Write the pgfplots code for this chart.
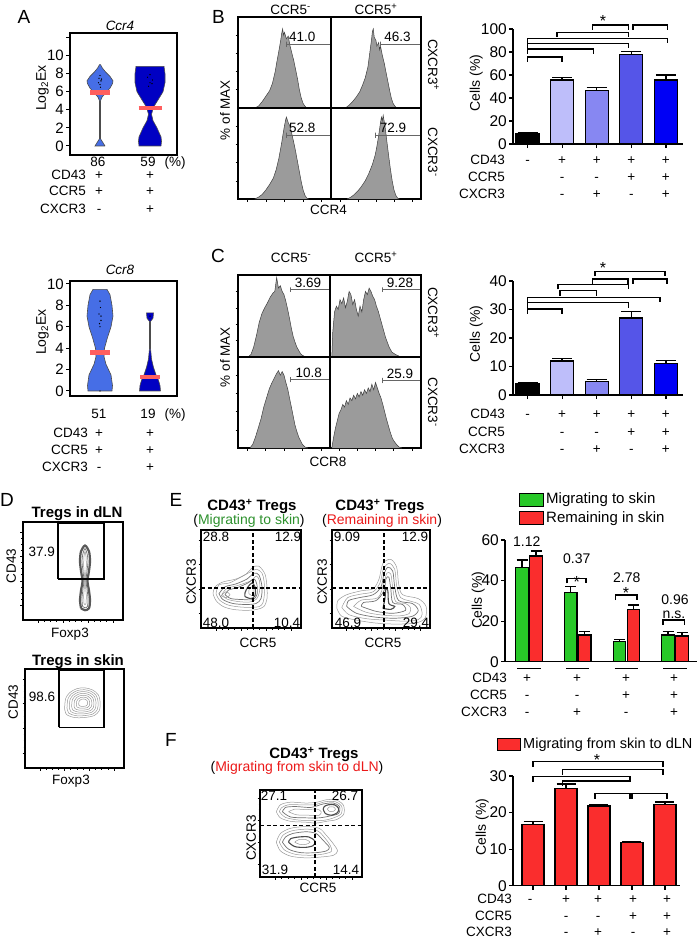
\documentclass[border=0pt]{standalone}
\usepackage{fontspec}
\setmainfont{Liberation Sans}
\usepackage{pgfplots}
\pgfplotsset{compat=1.18}
\definecolor{vlight}{RGB}{70,110,230}
\definecolor{vdark}{RGB}{0,0,195}
\definecolor{medred}{RGB}{255,95,95}
\definecolor{bb2}{RGB}{190,190,250}
\definecolor{bb3}{RGB}{135,135,242}
\definecolor{bb4}{RGB}{85,85,232}
\definecolor{bb5}{RGB}{0,0,245}
\definecolor{egreen}{RGB}{40,200,40}
\definecolor{ered}{RGB}{250,45,45}
\definecolor{tgreen}{RGB}{45,145,45}
\definecolor{tred}{RGB}{235,25,25}
\definecolor{histg}{RGB}{155,155,155}
\newcommand\fs[1]{\fontsize{#1}{#1}\selectfont}
\pgfplotsset{
  /pgf/number format/assume math mode=true,
  violin/.style={scale only axis, axis line style={line width=1.3pt}, xtick=\empty, ytick pos=left, tick align=outside, major tick length=4pt, tick style={black, line width=1pt}, yticklabel style={font=\fs{15}, inner sep=2pt}, clip=false},
  hist/.style={scale only axis, xmin=0, xmax=100, ymin=0, ymax=100, axis line style={line width=1.3pt}, tick pos=left, tick align=outside, major tick length=2.5pt, minor tick length=1.5pt, tick style={black, line width=0.6pt}, xticklabels={}, yticklabels={}},
  flow/.style={hist, xtick={15,40,65,90}, ytick={15,40,65,90}, minor tick num=3},
  hfill/.style={fill=histg, draw=black!75, line width=0.5pt, sharp plot},
  gate/.style={black!60, line width=0.8pt, sharp plot},
  cont/.style={black!40, line width=0.5pt, smooth},
  contm/.style={black!55, line width=0.7pt, smooth},
  contd/.style={black!70, line width=1.1pt, smooth},
  dash/.style={black, line width=1.6pt, dash pattern=on 4pt off 2.5pt, sharp plot},
  barch/.style={scale only axis, axis lines=left, axis line style={-, line width=1.5pt}, tick style={black, line width=1.2pt}, tick align=outside, major tick length=4pt, xticklabels={}, ybar, bar shift=0pt, clip=false, yticklabel style={font=\fs{15.5}, inner sep=2pt}},
  bx/.style={draw=black, line width=1.3pt},
  eb/.style={/pgfplots/error bars/y dir=plus, /pgfplots/error bars/y explicit, /pgfplots/error bars/error mark=|, /pgfplots/error bars/error bar style={line width=1.3pt, black}, /pgfplots/error bars/error mark options={mark size=#1, line width=1.3pt, black}},
  brk/.style={sharp plot, black, line width=1.3pt, fill=none, no markers},
}
\begin{document}
\begin{tikzpicture}[font=\fs{13.5},
  L/.style={inner sep=0pt, text height=9.7pt, text depth=0pt},
  P/.style={inner sep=0pt, font=\fs{19}, text height=13.6pt, text depth=0pt},
  T/.style={inner sep=0pt, font=\fs{15}\bfseries, text height=10.7pt, text depth=0pt}]
\useasboundingbox (0pt,0pt) rectangle (700pt,-942pt);

%%%%%%%%%%%%%%%% Panel A top: Ccr4 violins
\begin{axis}[violin, at={(70pt,-155pt)}, anchor=south west, width=107pt, height=122pt, xmin=0.4, xmax=2.54, ymin=-1, ymax=12.5, ytick={0,2,4,6,8,10,12}, yticklabels={0,2,4,6,8,10,{}}]
\addplot[fill=vlight, draw=black!70, line width=0.6pt, sharp plot] coordinates {(1.10,0)(1.01,0.8)(1.01,5.0)(1.04,5.4)(1.12,5.9)(1.2,6.4)(1.25,6.9)(1.26,7.2)(1.2,7.7)(1.11,8.2)(1.05,8.6)(1.01,9.0)(0.99,9.0)(0.95,8.6)(0.89,8.2)(0.8,7.7)(0.74,7.2)(0.75,6.9)(0.8,6.4)(0.88,5.9)(0.96,5.4)(0.99,5.0)(0.99,0.8)(0.90,0)(1.10,0)};
\addplot[fill=vdark, draw=black!70, line width=0.6pt, sharp plot] coordinates {(2.22,0)(2.23,0.5)(2.22,1)(2.14,2)(2.06,2.8)(2.03,3.5)(2.07,4.3)(2.15,5)(2.26,6)(2.3,7)(2.3,8)(2.28,8.8)(1.72,8.8)(1.7,8)(1.7,7)(1.74,6)(1.85,5)(1.93,4.3)(1.97,3.5)(1.94,2.8)(1.86,2)(1.78,1)(1.77,0.5)(1.78,0)(2.22,0)};
\addplot[only marks, mark=*, mark size=0.4pt, black] coordinates {(1.0,6.8)(1.02,7.2)(0.98,7.5)(1.0,7.8)(1.01,6.5)(0.97,7.0)(1.03,7.4)(1.95,7.6)(2.05,7.3)(2.0,7.0)(1.97,6.6)(2.04,6.9)(2.0,7.9)};
\addplot[medred, line width=4.5pt] coordinates {(0.8,5.9)(1.2,5.9)};
\addplot[medred, line width=4.5pt] coordinates {(1.77,4.2)(2.23,4.2)};
\end{axis}

%%%%%%%%%%%%%%%% Panel A bottom: Ccr8 violins
\begin{axis}[violin, at={(70pt,-396pt)}, anchor=south west, width=107pt, height=115pt, xmin=0.4, xmax=2.54, ymin=-0.47, ymax=10.28, ytick={0,2,4,6,8,10}]
\addplot[fill=vlight, draw=black!70, line width=0.6pt, sharp plot] coordinates {(1.24,0)(1.25,0.5)(1.22,1.5)(1.12,2.5)(1.08,3.2)(1.09,4)(1.15,5)(1.22,6)(1.26,7)(1.24,8)(1.2,9)(1.14,9.5)(0.86,9.5)(0.8,9)(0.76,8)(0.74,7)(0.78,6)(0.85,5)(0.91,4)(0.92,3.2)(0.88,2.5)(0.78,1.5)(0.75,0.5)(0.76,0)(1.24,0)};
\addplot[fill=vdark, draw=black!70, line width=0.6pt, sharp plot] coordinates {(2.21,0)(2.2,0.5)(2.17,1)(2.12,1.5)(2.07,2.2)(2.03,3)(2.01,4)(2.01,6.5)(2.06,6.8)(2.07,7.3)(1.93,7.3)(1.94,6.8)(1.99,6.5)(1.99,4)(1.97,3)(1.93,2.2)(1.88,1.5)(1.83,1)(1.8,0.5)(1.79,0)(2.21,0)};
\addplot[only marks, mark=*, mark size=0.4pt, black] coordinates {(1.0,6)(1.02,6.6)(0.98,7.2)(1.01,7.8)(1.0,8.4)(0.99,6.3)(1.02,7.0)(2.0,7.0)(1.0,0)};
\addplot[medred, line width=4.5pt] coordinates {(0.8,3.6)(1.2,3.6)};
\addplot[medred, line width=4.5pt] coordinates {(1.8,1.3)(2.2,1.3)};
\end{axis}

%%%%%%%%%%%%%%%% Panel B histograms (CCR4)
\begin{axis}[hist, at={(238pt,-108pt)}, anchor=south west, width=93pt, height=91pt, xtick=\empty, ytick={20,40,60,80}]
\addplot[hfill] coordinates {(18,0)(22,2)(26,7)(30,13)(34,19)(37,27)(40,40)(42,52)(44,63)(46,75)(47,82)(48,87)(49,80)(50,83)(52,76)(54,79)(56,68)(58,60)(60,52)(62,42)(64,32)(66,20)(68,11)(70,5)(72,2)(74,0)};
\addplot[gate] coordinates {(52,67)(52,73)(52,70)(99,70)};
\node[L] at (axis cs:69,78) {41.0};
\end{axis}
\begin{axis}[hist, at={(331pt,-108pt)}, anchor=south west, width=90pt, height=91pt, xtick=\empty, ytick=\empty]
\addplot[hfill] coordinates {(16,0)(20,3)(24,7)(28,12)(32,18)(35,25)(38,33)(41,45)(43,60)(45,75)(46,84)(47,87)(48,78)(50,74)(51,68)(53,72)(54,64)(55,68)(57,58)(59,50)(61,40)(63,30)(65,20)(67,11)(69,5)(71,2)(73,0)};
\addplot[gate] coordinates {(55,67)(55,73)(55,70)(99,70)};
\node[L] at (axis cs:74,78) {46.3};
\end{axis}
\begin{axis}[hist, at={(238pt,-199pt)}, anchor=south west, width=93pt, height=91pt, xtick={10,30,50,70,90}, ytick={20,40,60,80}]
\addplot[hfill] coordinates {(18,0)(22,2)(26,5)(30,10)(34,16)(38,23)(41,32)(44,45)(47,62)(49,75)(51,86)(52,90)(54,84)(56,80)(58,71)(60,62)(62,52)(64,41)(66,30)(68,19)(70,10)(72,4)(74,1)(76,0)};
\addplot[gate] coordinates {(52,67)(52,73)(52,70)(99,70)};
\node[L] at (axis cs:69,78) {52.8};
\end{axis}
\begin{axis}[hist, at={(331pt,-199pt)}, anchor=south west, width=90pt, height=91pt, xtick={10,30,50,70,90}, ytick=\empty]
\addplot[hfill] coordinates {(18,0)(22,2)(26,5)(30,9)(34,14)(38,20)(42,28)(46,38)(49,48)(51,58)(53,70)(55,84)(56,90)(57,86)(58,92)(60,80)(62,64)(64,48)(66,33)(68,20)(70,10)(72,4)(74,1)(76,0)};
\addplot[gate] coordinates {(49,67)(49,73)(49,70)(99,70)};
\node[L] at (axis cs:69,78) {72.9};
\end{axis}

%%%%%%%%%%%%%%%% Panel C histograms (CCR8)
\begin{axis}[hist, at={(238pt,-357pt)}, anchor=south west, width=92pt, height=82pt, xtick=\empty, ytick={20,40,60,80}]
\addplot[hfill] coordinates {(11,0)(14,3)(17,12)(20,26)(23,42)(26,53)(29,60)(32,66)(35,73)(38,78)(40,80)(42,97)(44,84)(46,87)(48,80)(50,76)(52,68)(54,58)(56,47)(58,35)(60,25)(62,18)(64,12)(66,8)(68,4)(70,2)(74,0)};
\addplot[gate] coordinates {(57,79)(57,85)(57,82)(99,82)};
\node[L] at (axis cs:76,91) {3.69};
\end{axis}
\begin{axis}[hist, at={(330pt,-357pt)}, anchor=south west, width=91pt, height=82pt, xtick=\empty, ytick=\empty]
\addplot[hfill] coordinates {(2,0)(3,30)(5,55)(7,62)(9,58)(11,70)(13,65)(15,72)(17,60)(19,68)(21,80)(23,76)(25,64)(27,70)(29,58)(31,50)(33,62)(35,55)(37,70)(39,80)(41,76)(43,84)(45,80)(47,74)(49,70)(51,62)(53,56)(55,48)(57,40)(59,32)(61,24)(63,18)(65,12)(68,6)(72,3)(76,1)(78,0)};
\addplot[gate] coordinates {(58,79)(58,85)(58,82)(99,82)};
\node[L] at (axis cs:77,91) {9.28};
\end{axis}
\begin{axis}[hist, at={(238pt,-448pt)}, anchor=south west, width=92pt, height=91pt, xtick={10,30,50,70,90}, ytick={20,40,60,80}]
\addplot[hfill] coordinates {(13,0)(16,4)(19,12)(22,22)(25,32)(28,45)(31,55)(34,65)(37,72)(40,78)(42,82)(44,85)(46,80)(48,84)(50,80)(52,72)(54,65)(56,55)(58,45)(60,35)(62,25)(64,18)(66,12)(68,8)(70,4)(73,1)(76,0)};
\addplot[gate] coordinates {(57,72)(57,78)(57,75)(99,75)};
\node[L] at (axis cs:77,83) {10.8};
\end{axis}
\begin{axis}[hist, at={(330pt,-448pt)}, anchor=south west, width=91pt, height=91pt, xtick={10,30,50,70,90}, ytick=\empty]
\addplot[hfill] coordinates {(2,0)(4,12)(6,22)(8,30)(10,38)(12,42)(14,48)(16,45)(18,52)(20,48)(22,55)(24,52)(26,58)(28,54)(30,60)(32,56)(34,62)(36,58)(38,64)(40,60)(42,66)(44,62)(46,70)(48,64)(50,72)(52,66)(54,60)(56,55)(58,48)(60,40)(62,32)(64,25)(66,18)(68,12)(70,8)(73,4)(76,1)(79,0)};
\addplot[gate] coordinates {(58,71)(58,77)(58,74)(99,74)};
\node[L] at (axis cs:77,82) {25.9};
\end{axis}

%%%%%%%%%%%%%%%% Panel B bar chart
\begin{axis}[barch, at={(513pt,-144pt)}, anchor=south west, width=170pt, height=115pt, xmin=0.58, xmax=5.493, ymin=0, ymax=100, ytick={0,20,40,60,80,100}, xtick={1,2,3,4,5}, bar width=23pt]
\addplot[fill=black, bx, eb=10pt] coordinates {(1,9.3) +- (0,0.5)};
\addplot[fill=bb2, bx, eb=10pt] coordinates {(2,55.7) +- (0,2.3)};
\addplot[fill=bb3, bx, eb=10pt] coordinates {(3,46.4) +- (0,2.9)};
\addplot[fill=bb4, bx, eb=10pt] coordinates {(4,78) +- (0,2.3)};
\addplot[fill=bb5, bx, eb=10pt] coordinates {(5,55.7) +- (0,4.3)};
\addplot[brk] coordinates {(1,71.5)(1,75.6)(2,75.6)(2,71.5)};
\addplot[brk] coordinates {(1,78.4)(1,82.5)(2.9,82.5)(2.9,78.4)};
\addplot[brk] coordinates {(1,83.4)(1,87.5)(3.92,87.5)(3.92,83.4)};
\addplot[brk] coordinates {(1,87.8)(1,91.9)(5.05,91.9)(5.05,87.8)};
\addplot[brk] coordinates {(1.85,93)(1.85,97.1)(3.92,97.1)(3.92,93)};
\addplot[brk] coordinates {(2.88,99.4)(2.88,103.5)(3.92,103.5)(3.92,99.4)};
\addplot[brk] coordinates {(4.05,99.4)(4.05,103.5)(5.05,103.5)(5.05,99.4)};
\end{axis}

%%%%%%%%%%%%%%%% Panel C bar chart
\begin{axis}[barch, at={(513pt,-395pt)}, anchor=south west, width=170pt, height=114pt, xmin=0.58, xmax=5.493, ymin=0, ymax=40, ytick={0,10,20,30,40}, xtick={1,2,3,4,5}, bar width=23pt]
\addplot[fill=black, bx, eb=10pt] coordinates {(1,3.85) +- (0,0.45)};
\addplot[fill=bb2, bx, eb=10pt] coordinates {(2,11.9) +- (0,0.8)};
\addplot[fill=bb3, bx, eb=10pt] coordinates {(3,4.7) +- (0,0.8)};
\addplot[fill=bb4, bx, eb=10pt] coordinates {(4,27.05) +- (0,2.35)};
\addplot[fill=bb5, bx, eb=10pt] coordinates {(5,11.1) +- (0,1.1)};
\addplot[brk] coordinates {(1,28.5)(1,30.2)(2,30.2)(2,28.5)};
\addplot[brk] coordinates {(1,30.7)(1,32.4)(3.92,32.4)(3.92,30.7)};
\addplot[brk] coordinates {(1,32.6)(1,34.3)(4.83,34.3)(4.83,32.6)};
\addplot[brk] coordinates {(1.94,34.9)(1.94,36.6)(3.0,36.6)(3.0,34.9)};
\addplot[brk] coordinates {(1.88,37.1)(1.88,38.8)(3.92,38.8)(3.92,37.1)};
\addplot[brk] coordinates {(2.87,39)(2.87,40.7)(3.9,40.7)(3.9,39)};
\addplot[brk] coordinates {(4.05,39)(4.05,40.7)(5.03,40.7)(5.03,39)};
\addplot[brk] coordinates {(2.95,41.6)(2.95,43.3)(4.97,43.3)(4.97,41.6)};
\end{axis}

%%%%%%%%%%%%%%%% Panel D flow plots
\begin{axis}[flow, at={(23pt,-620pt)}, anchor=south west, width=100pt, height=98pt]
\addplot[black!65, line width=2.2pt, smooth] coordinates {(58,12)(62,10)(66,12)(67,20)(66,30)(64.5,40)(66,50)(67,60)(66,70)(62,76)(58,70)(57,60)(58,50)(59.5,40)(58,30)(57,20)(58,12)};
\addplot[contm] coordinates {(59.5,14)(62,12.5)(64.5,14)(65,22)(64,32)(63,40)(64,50)(65,60)(64,68)(62,73)(60,68)(59,60)(60,50)(61,40)(60,32)(59,22)(59.5,14)};
\addplot[cont] coordinates {(61,17)(62,15.5)(63,17)(63.3,25)(62.5,35)(62.5,45)(63.3,55)(63,65)(62,70)(61,65)(60.7,55)(61.5,45)(61.5,35)(60.7,25)(61,17)};
\addplot[black, line width=1.8pt, sharp plot] coordinates {(35,42)(81,42)(81,99)(35,99)(35,42)};
\end{axis}
\begin{axis}[flow, at={(25pt,-768pt)}, anchor=south west, width=99pt, height=99pt]
\addplot[cont] coordinates {(40,60)(42,54)(50,51)(60,51)(70,53)(75,58)(76,66)(74,74)(68,79)(60,81)(52,80)(45,76)(41,70)(40,60)};
\addplot[cont] coordinates {(42.4,60.75)(44.1,55.5)(51.1,52.9)(59.9,52.9)(68.6,54.6)(73,59)(73.9,66)(72.1,73)(66.9,77.4)(59.9,79.1)(52.9,78.25)(46.75,74.75)(43.25,69.5)(42.4,60.75)};
\addplot[cont] coordinates {(44.75,61.5)(46.25,57)(52.25,54.75)(59.75,54.75)(67.25,56.25)(71,60)(71.75,66)(70.25,72)(65.75,75.75)(59.75,77.25)(53.75,76.5)(48.5,73.5)(45.5,69)(44.75,61.5)};
\addplot[cont] coordinates {(47.1,62.25)(48.4,58.5)(53.4,56.6)(59.6,56.6)(65.9,57.9)(69,61)(69.6,66)(68.4,71)(64.6,74.1)(59.6,75.4)(54.6,74.75)(50.25,72.25)(47.75,68.5)(47.1,62.25)};
\addplot[cont] coordinates {(49.5,63)(50.5,60)(54.5,58.5)(59.5,58.5)(64.5,59.5)(67,62)(67.5,66)(66.5,70)(63.5,72.5)(59.5,73.5)(55.5,73)(52,71)(50,68)(49.5,63)};
\addplot[cont] coordinates {(51.9,63.75)(52.6,61.5)(55.6,60.4)(59.4,60.4)(63.1,61.1)(65,63)(65.4,66)(64.6,69)(62.4,70.9)(59.4,71.6)(56.4,71.25)(53.75,69.75)(52.25,67.5)(51.9,63.75)};
\addplot[cont] coordinates {(54.25,64.5)(54.75,63)(56.75,62.25)(59.25,62.25)(61.75,62.75)(63,64)(63.25,66)(62.75,68)(61.25,69.25)(59.25,69.75)(57.25,69.5)(55.5,68.5)(54.5,67)(54.25,64.5)};
\addplot[black, line width=1.8pt, sharp plot] coordinates {(34,41)(80,41)(80,99)(34,99)(34,41)};
\end{axis}

%%%%%%%%%%%%%%%% Panel E flow plots
\begin{axis}[flow, at={(201pt,-628pt)}, anchor=south west, width=100pt, height=98pt]
\addplot[cont] coordinates {(12,35)(15,28)(22,22)(32,19)(45,18)(56,19)(63,22)(66,30)(66,42)(64,55)(58,63)(52,62)(45,55)(35,50)(22,47)(14,42)(12,35)};
\addplot[cont] coordinates {(15,35)(18.5,28.5)(27,23.5)(38.5,21.5)(50,21)(58.5,22)(62,26)(63.5,36)(63,48)(61,56)(55.5,60)(49,57)(40,52)(28.5,46)(18,44)(15,35)};
\addplot[contm] coordinates {(18,35)(22,29)(32,25)(45,24)(55,25)(60,30)(61,42)(58,54)(53,56)(46,50)(35,45)(24,42)(18,35)};
\addplot[cont] coordinates {(21,34.5)(26,29.5)(37,27)(48.5,26.5)(55.5,29.5)(58.5,37)(58.5,48)(55.5,53)(49.5,48)(35.5,43)(26,40.5)(21,34.5)};
\addplot[contm] coordinates {(24,34)(30,30)(42,29)(52,29)(56,34)(56,44)(53,50)(47,46)(36,41)(28,39)(24,34)};
\addplot[contd] coordinates {(44,32)(50,30)(54,33)(54,42)(51,46)(47,42)(44,36)(44,32)};
\addplot[cont] coordinates {(48,35)(51,33)(52,36)(52,41)(50,42)(48,39)(48,35)};
\addplot[cont] coordinates {(20,33)(25,31)(29,34)(25,37)(20,33)};
\addplot[dash] coordinates {(52,0)(52,100)};
\addplot[dash] coordinates {(0,41)(100,41)};
\end{axis}
\begin{axis}[flow, at={(332pt,-628pt)}, anchor=south west, width=98pt, height=98pt]
\addplot[cont] coordinates {(5,20)(10,12)(25,8)(45,5)(65,4)(85,5)(95,10)(96,22)(88,30)(72,34)(68,45)(66,62)(60,70)(52,66)(48,50)(42,40)(30,38)(15,34)(6,28)(5,20)};
\addplot[cont] coordinates {(10,21)(17.5,13.5)(35,9.5)(55,8)(75,7)(88,8.5)(92,14)(89,24)(78,28)(70,31)(66,43)(64,60)(58.5,66)(52.5,60.5)(49,46)(42,37)(29,34.5)(16,31)(10,21)};
\addplot[contm] coordinates {(15,22)(25,15)(45,11)(65,10)(82,12)(88,18)(82,25)(68,28)(64,42)(62,58)(57,62)(53,55)(50,42)(42,34)(28,31)(17,28)(15,22)};
\addplot[cont] coordinates {(22,22)(35,16)(53,13)(70,12.5)(79,15)(80,21)(75,25)(65,27)(62,41)(60,55)(56,56)(53,46)(47,31)(30,28.5)(22,22)};
\addplot[contm] coordinates {(30,22)(45,17)(62,15)(75,18)(72,24)(62,26)(60,40)(58,52)(55,50)(53,38)(45,28)(32,26)(30,22)};
\addplot[contd] coordinates {(52,20)(60,19)(64,22)(58,25)(57,38)(55,40)(54,30)(52,20)};
\addplot[dash] coordinates {(53,0)(53,100)};
\addplot[dash] coordinates {(0,41)(100,41)};
\end{axis}

%%%%%%%%%%%%%%%% Panel F flow plot
\begin{axis}[flow, at={(260pt,-877pt)}, anchor=south west, width=102pt, height=87pt]
\addplot[cont] coordinates {(16,75)(20,68)(30,64)(45,63)(55,62)(65,64)(75,66)(82,72)(82,82)(76,88)(66,89)(56,86)(45,85)(30,86)(20,83)(16,75)};
\addplot[cont] coordinates {(19,75)(25,68.5)(37.5,65.5)(50,65)(61.5,65)(71,67.5)(79.5,72.5)(80,81.5)(74,86.5)(64,86.5)(53,83)(40,83)(27.5,83)(21,79.5)(19,75)};
\addplot[contm] coordinates {(22,75)(30,69)(45,68)(58,68)(68,70)(77,73)(78,81)(72,85)(62,84)(50,80)(35,81)(25,80)(22,75)};
\addplot[cont] coordinates {(28,75)(36,71.5)(48,71)(58,71)(60,75)(56,78)(45,77.5)(34,78)(28,75)};
\addplot[contd] coordinates {(62,78)(64,73)(70,71)(76,74)(77,79)(73,83)(67,83)(63,81)(62,78)};
\addplot[cont] coordinates {(66,78)(68,75.5)(72,75.5)(74,78)(72,80.5)(68,80.5)(66,78)};
\addplot[cont] coordinates {(16,40)(20,30)(30,24)(45,22)(60,23)(72,25)(76,30)(72,38)(65,48)(58,56)(45,58)(30,56)(20,50)(16,40)};
\addplot[cont] coordinates {(19,40)(24,31)(35,26)(50,25)(62.5,26.5)(70,29.5)(69,36)(63.5,45)(56.5,53)(45,55)(31,53)(22.5,48)(19,40)};
\addplot[contm] coordinates {(22,40)(28,32)(40,28)(55,28)(65,30)(68,34)(62,42)(55,50)(45,52)(32,50)(25,46)(22,40)};
\addplot[contd] coordinates {(28,40)(34,35)(44,34)(52,36)(54,41)(48,46)(38,46)(30,44)(28,40)};
\addplot[cont] coordinates {(34,40)(39,37.5)(45,37.5)(49,40)(45,43)(38,43)(34,40)};
\addplot[dash] coordinates {(54,0)(54,100)};
\addplot[dash] coordinates {(0,59)(100,59)};
\end{axis}

%%%%%%%%%%%%%%%% Panel E bar chart
\begin{axis}[barch, at={(505pt,-661.7pt)}, anchor=south west, width=192pt, height=121.7pt, xmin=0.507, xmax=4.45, ymin=0, ymax=60, ytick={0,20,40,60}, xtick=\empty, bar width=12.5pt]
\addplot[fill=egreen, bx, bar shift=-7pt, eb=5.5pt] coordinates {(1,46.5) +- (0,3.6) (2,34.2) +- (0,2.8) (3,9.9) +- (0,1.1) (4,13.2) +- (0,1.6)};
\addplot[fill=ered, bx, bar shift=7pt, eb=5.5pt] coordinates {(1,52.1) +- (0,2.5) (2,13.2) +- (0,1.6) (3,25.8) +- (0,2.2) (4,12.7) +- (0,1.6)};
\addplot[brk] coordinates {(1.78,38.6)(1.78,41.1)(2.17,41.1)(2.17,38.6)};
\addplot[brk] coordinates {(2.77,30.4)(2.77,32.9)(3.22,32.9)(3.22,30.4)};
\addplot[brk] coordinates {(3.75,18)(3.75,20.5)(4.2,20.5)(4.2,18)};
\addplot[brk, line width=1pt] coordinates {(0.76,-3.3)(1.24,-3.3)};
\addplot[brk, line width=1pt] coordinates {(1.76,-3.3)(2.24,-3.3)};
\addplot[brk, line width=1pt] coordinates {(2.76,-3.3)(3.24,-3.3)};
\addplot[brk, line width=1pt] coordinates {(3.76,-3.3)(4.24,-3.3)};
\end{axis}

%%%%%%%%%%%%%%%% Panel F bar chart
\begin{axis}[barch, at={(513pt,-885.7pt)}, anchor=south west, width=167pt, height=109.7pt, xmin=0.394, xmax=5.455, ymin=0, ymax=30, ytick={0,10,20,30}, xtick={1,2,3,4,5}, bar width=22pt]
\addplot[fill=ered, bx, eb=9.5pt] coordinates {(1,16.8) +- (0,0.7) (2,26.6) +- (0,1.2) (3,21.8) +- (0,0.4) (4,11.8) +- (0,0.2) (5,22.3) +- (0,0.6)};
\addplot[brk] coordinates {(1,32.5)(1,33.9)(4.94,33.9)(4.94,32.5)};
\addplot[brk] coordinates {(1.9,30.4)(1.9,31.8)(4.94,31.8)(4.94,30.4)};
\addplot[brk] coordinates {(1,28.4)(1,29.8)(3.94,29.8)(3.94,28.4)};
\addplot[brk] coordinates {(1.9,27.2)(1.9,28.6)(3.94,28.6)};
\addplot[brk] coordinates {(2.88,23.8)(2.88,25.2)(3.94,25.2)(3.94,23.8)};
\addplot[brk] coordinates {(4.0,23.8)(4.0,25.2)(5.06,25.2)(5.06,23.8)};
\end{axis}

%%%%%%%%%%%%%%%% Texts
\node[P] at (24pt,-16.5pt) {A};
\node[P] at (218.5pt,-16.5pt) {B};
\node[P] at (218pt,-255.5pt) {C};
\node[P] at (7pt,-500pt) {D};
\node[P] at (176pt,-500pt) {E};
\node[P] at (171pt,-740pt) {F};

% A top
\node[L, font=\fs{13.5}\itshape] at (120pt,-25.5pt) {Ccr4};
\node[L, rotate=90, font=\fs{14}] at (41pt,-88pt) {Log\textsubscript{2}Ex};
\node[L] at (98pt,-162pt) {86};
\node[L] at (148pt,-162pt) {59};
\node[L] at (175pt,-162pt) {(\%)};
\node[L, anchor=east] at (86pt,-174.5pt) {CD43};
\node[L, anchor=east] at (86pt,-191pt) {CCR5};
\node[L, anchor=east] at (86pt,-209pt) {CXCR3};
\node[L] at (99pt,-174.5pt) {+}; \node[L] at (150pt,-174.5pt) {+};
\node[L] at (99pt,-191pt) {+}; \node[L] at (150pt,-191pt) {+};
\node[L] at (99pt,-209pt) {-}; \node[L] at (150pt,-209pt) {+};
% A bottom
\node[L, font=\fs{13.5}\itshape] at (120pt,-270pt) {Ccr8};
\node[L, rotate=90, font=\fs{14}] at (41pt,-332pt) {Log\textsubscript{2}Ex};
\node[L] at (99pt,-414pt) {51};
\node[L] at (148pt,-414pt) {19};
\node[L] at (175pt,-414pt) {(\%)};
\node[L, anchor=east] at (88pt,-433pt) {CD43};
\node[L, anchor=east] at (88pt,-450pt) {CCR5};
\node[L, anchor=east] at (88pt,-467pt) {CXCR3};
\node[L] at (99pt,-433pt) {+}; \node[L] at (150pt,-433pt) {+};
\node[L] at (99pt,-450pt) {+}; \node[L] at (150pt,-450pt) {+};
\node[L] at (99pt,-467pt) {-}; \node[L] at (150pt,-467pt) {+};

% B labels
\node[L] at (290.5pt,-10pt) {CCR5\textsuperscript{-}};
\node[L] at (376pt,-10pt) {CCR5\textsuperscript{+}};
\node[L, rotate=90] at (225pt,-110pt) {\% of MAX};
\node[L] at (328.5pt,-210pt) {CCR4};
\node[L, rotate=-90] at (433pt,-65pt) {CXCR3\textsuperscript{+}};
\node[L, rotate=-90] at (433pt,-152pt) {CXCR3\textsuperscript{-}};
% C labels
\node[L] at (291pt,-258pt) {CCR5\textsuperscript{-}};
\node[L] at (376pt,-258pt) {CCR5\textsuperscript{+}};
\node[L, rotate=90] at (225pt,-357pt) {\% of MAX};
\node[L] at (328pt,-462pt) {CCR8};
\node[L, rotate=-90] at (433pt,-313pt) {CXCR3\textsuperscript{+}};
\node[L, rotate=-90] at (433pt,-402pt) {CXCR3\textsuperscript{-}};

% B bar texts
\node[L, rotate=90, font=\fs{14}] at (475pt,-83pt) {Cells (\%)};
\node[L, font=\fs{16}] at (603pt,-22pt) {*};
\node[L, anchor=east] at (505pt,-160pt) {CD43};
\node[L, anchor=east] at (505pt,-177pt) {CCR5};
\node[L, anchor=east] at (505pt,-194pt) {CXCR3};
\foreach \x/\s in {527.5/-,562/+,596.7/+,631.3/+,665.9/+} \node[L] at (\x pt,-160pt) {\s};
\foreach \x/\s in {562/-,596.7/-,631.3/+,665.9/+} \node[L] at (\x pt,-177pt) {\s};
\foreach \x/\s in {562/-,596.7/+,631.3/-,665.9/+} \node[L] at (\x pt,-194pt) {\s};
% C bar texts
\node[L, rotate=90, font=\fs{14}] at (475pt,-334pt) {Cells (\%)};
\node[L, font=\fs{16}] at (603pt,-269pt) {*};
\node[L, anchor=east] at (505pt,-414pt) {CD43};
\node[L, anchor=east] at (505pt,-432pt) {CCR5};
\node[L, anchor=east] at (505pt,-449pt) {CXCR3};
\foreach \x/\s in {527.5/-,562/+,596.7/+,631.3/+,665.9/+} \node[L] at (\x pt,-414pt) {\s};
\foreach \x/\s in {562/-,596.7/-,631.3/+,665.9/+} \node[L] at (\x pt,-432pt) {\s};
\foreach \x/\s in {562/-,596.7/+,631.3/-,665.9/+} \node[L] at (\x pt,-449pt) {\s};

% D texts
\node[T] at (77pt,-511.7pt) {Tregs in dLN};
\node[L] at (41.7pt,-551.7pt) {37.9};
\node[L, rotate=90] at (11pt,-566pt) {CD43};
\node[L] at (70pt,-633pt) {Foxp3};
\node[T] at (78pt,-660pt) {Tregs in skin};
\node[L] at (42pt,-696.7pt) {98.6};
\node[L, rotate=90] at (13pt,-702pt) {CD43};
\node[L] at (71pt,-780pt) {Foxp3};

% E texts
\node[T] at (252pt,-505pt) {CD43\textsuperscript{+} Tregs};
\node[L, font=\fs{14}] at (249pt,-520pt) {(\textcolor{tgreen}{Migrating to skin})};
\node[T] at (380pt,-505pt) {CD43\textsuperscript{+} Tregs};
\node[L, font=\fs{14}] at (382pt,-520pt) {(\textcolor{tred}{Remaining in skin})};
\node[L] at (216pt,-537pt) {28.8};
\node[L] at (288pt,-537pt) {12.9};
\node[L] at (216pt,-623pt) {48.0};
\node[L] at (287pt,-623pt) {10.4};
\node[L] at (347pt,-537pt) {9.09};
\node[L] at (415pt,-537pt) {12.9};
\node[L] at (348pt,-623pt) {46.9};
\node[L] at (416pt,-623pt) {29.4};
\node[L, rotate=90] at (191pt,-582pt) {CXCR3};
\node[L, rotate=90] at (322pt,-582pt) {CXCR3};
\node[L] at (258pt,-643pt) {CCR5};
\node[L] at (383pt,-643pt) {CCR5};

% E bar texts
\filldraw[fill=egreen, draw=black, line width=0.8pt] (519pt,-493pt) rectangle (543pt,-506pt);
\node[L, font=\fs{15}, anchor=west] at (546pt,-499pt) {Migrating to skin};
\filldraw[fill=ered, draw=black, line width=0.8pt] (519pt,-511pt) rectangle (543pt,-524pt);
\node[L, font=\fs{15}, anchor=west] at (546pt,-517.5pt) {Remaining in skin};
\node[L, rotate=90, font=\fs{14}] at (477pt,-600pt) {Cells (\%)};
\node[L, font=\fs{14}] at (526.7pt,-541.7pt) {1.12};
\node[L, font=\fs{14}] at (576.7pt,-559pt) {0.37};
\node[L, font=\fs{16}] at (576.7pt,-583pt) {*};
\node[L, font=\fs{14}] at (626.7pt,-577.5pt) {2.78};
\node[L, font=\fs{16}] at (626pt,-594pt) {*};
\node[L, font=\fs{14}] at (675pt,-600pt) {0.96};
\node[L, font=\fs{14}] at (674pt,-614pt) {n.s.};
\node[L, anchor=east] at (507pt,-678pt) {CD43};
\node[L, anchor=east] at (507pt,-695pt) {CCR5};
\node[L, anchor=east] at (507pt,-712pt) {CXCR3};
\foreach \x/\s in {527/+,577/+,626/+,674/+} \node[L] at (\x pt,-678pt) {\s};
\foreach \x/\s in {527/-,577/-,626/+,674/+} \node[L] at (\x pt,-695pt) {\s};
\foreach \x/\s in {527/-,577/+,626/-,674/+} \node[L] at (\x pt,-712pt) {\s};

% F texts
\node[T] at (314pt,-753pt) {CD43\textsuperscript{+} Tregs};
\node[L, font=\fs{14}] at (297pt,-767pt) {(\textcolor{tred}{Migrating from skin to dLN})};
\node[L] at (274pt,-796pt) {27.1};
\node[L] at (345pt,-796pt) {26.7};
\node[L] at (275pt,-870pt) {31.9};
\node[L] at (346pt,-870pt) {14.4};
\node[L, rotate=90] at (251pt,-838pt) {CXCR3};
\node[L] at (318pt,-888pt) {CCR5};

% F bar texts
\filldraw[fill=ered, draw=black, line width=0.8pt] (497pt,-738pt) rectangle (520pt,-750pt);
\node[L, font=\fs{14.5}, anchor=west] at (523pt,-744pt) {Migrating from skin to dLN};
\node[L, font=\fs{16}] at (597pt,-761pt) {*};
\node[L, rotate=90, font=\fs{14}] at (481pt,-827pt) {Cells (\%)};
\node[L, anchor=east] at (512pt,-899pt) {CD43};
\node[L, anchor=east] at (512pt,-916pt) {CCR5};
\node[L, anchor=east] at (512pt,-932pt) {CXCR3};
\foreach \x/\s in {530/-,566/+,598/+,633/+,667/+} \node[L] at (\x pt,-899pt) {\s};
\foreach \x/\s in {566/-,598/-,633/+,667/+} \node[L] at (\x pt,-916pt) {\s};
\foreach \x/\s in {566/-,598/+,633/-,667/+} \node[L] at (\x pt,-932pt) {\s};
\end{tikzpicture}
\end{document}
